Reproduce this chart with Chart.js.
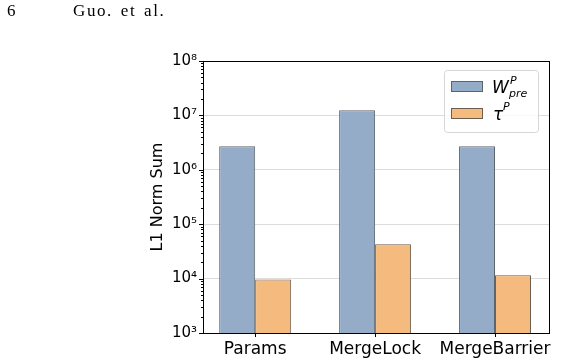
<!DOCTYPE html>
<html>
<head>
<meta charset="utf-8">
<script src="https://cdn.jsdelivr.net/npm/chart.js@4/dist/chart.umd.min.js"></script>
<style>
  html, body { margin: 0; padding: 0; background: #fff; }
  #wrap { position: relative; width: 561px; height: 363px; }
  #hdr { position: absolute; left: 0; top: 0; font: 17px "Liberation Serif", serif; color: #000; }
  #hdr .pg { position: absolute; left: 7px; top: 1px; }
  #hdr .au { position: absolute; left: 73px; top: 1px; white-space: nowrap; letter-spacing: 1.6px; word-spacing: 2px; }
</style>
</head>
<body>
<div id="wrap">
  <canvas id="c" width="561" height="363"></canvas>
  <div id="hdr"><span class="pg">6</span><span class="au">Guo. et al.</span></div>
</div>
<script>
// values
const categories = ['Params', 'MergeLock', 'MergeBarrier'];
const wPre = [2.7e6, 1.25e7, 2.7e6];
const tau = [9.6e3, 4.3e4, 1.15e4];
const yTickExps = [3, 4, 5, 6, 7, 8];

const sup = { '0': '⁰', '1': '¹', '2': '²', '3': '³', '4': '⁴', '5': '⁵', '6': '⁶', '7': '⁷', '8': '⁸', '9': '⁹' };
const toPoints = arr => arr.map((v, i) => ({ x: i, y: v }));

// ticks, frame and legend drawn the matplotlib way
const decor = {
  id: 'decor',
  afterDraw(chart) {
    const ctx = chart.ctx, a = chart.chartArea, y = chart.scales.y;
    ctx.save();
    ctx.strokeStyle = '#000';
    ctx.lineWidth = 1;
    // y ticks, major and minor
    for (let e = 3; e < 8; e++) {
      for (let m = 1; m < 10; m++) {
        const py = Math.round(y.getPixelForValue(m * Math.pow(10, e))) + 0.5;
        const len = m === 1 ? 4 : 2;
        ctx.beginPath(); ctx.moveTo(a.left - len, py); ctx.lineTo(a.left, py); ctx.stroke();
      }
    }
    const top = Math.round(y.getPixelForValue(1e8)) + 0.5;
    ctx.beginPath(); ctx.moveTo(a.left - 4, top); ctx.lineTo(a.left, top); ctx.stroke();
    // x ticks
    const x = chart.scales.x;
    categories.forEach((c, i) => {
      const px = Math.round(x.getPixelForValue(i)) + 0.5;
      ctx.beginPath(); ctx.moveTo(px, a.bottom); ctx.lineTo(px, a.bottom + 4); ctx.stroke();
    });
    // frame
    ctx.strokeRect(Math.round(a.left) + 0.5, Math.round(a.top) + 0.5, Math.round(a.right - a.left), Math.round(a.bottom - a.top));

    // legend
    const lx = 444, ly = 70, lw = 94, lh = 62;
    ctx.fillStyle = 'rgba(255,255,255,0.8)';
    ctx.strokeStyle = '#d6d6d6';
    ctx.beginPath();
    ctx.roundRect(lx + 0.5, ly + 0.5, lw, lh, 3);
    ctx.fill(); ctx.stroke();
    const ds = chart.data.datasets;
    const rows = [ly + 11, ly + 38];
    rows.forEach((ry, i) => {
      ctx.fillStyle = ds[i].backgroundColor;
      ctx.fillRect(451, ry, 32, 11);
      ctx.strokeStyle = ds[i].borderColor;
      ctx.strokeRect(451.5, ry + 0.5, 31, 10);
    });
    ctx.fillStyle = '#000';
    ctx.textBaseline = 'alphabetic';
    ctx.font = 'italic 17px "DejaVu Sans"';
    ctx.fillText('W', 492, 93);
    ctx.font = 'italic 11px "DejaVu Sans"';
    ctx.fillText('P', 510, 84);
    ctx.fillText('pre', 509, 97);
    ctx.font = 'italic 17px "DejaVu Sans"';
    ctx.fillText('τ', 493, 120);
    ctx.font = 'italic 11px "DejaVu Sans"';
    ctx.fillText('P', 503, 110);
    ctx.restore();
  }
};

new Chart(document.getElementById('c'), {
  type: 'bar',
  data: {
    datasets: [
      { label: 'W_pre^P', data: toPoints(wPre), backgroundColor: '#94acc8', borderColor: '#5c636b', borderWidth: 1 },
      { label: 'τ^P', data: toPoints(tau), backgroundColor: '#f5bb7e', borderColor: '#6b5d50', borderWidth: 1 }
    ]
  },
  options: {
    responsive: false,
    animation: false,
    layout: { padding: { left: 140, right: 12, top: 61, bottom: 0 } },
    plugins: { legend: { display: false }, tooltip: { enabled: false } },
    datasets: { bar: { categoryPercentage: 0.6, barPercentage: 1.0 } },
    scales: {
      x: {
        type: 'linear',
        min: -0.435,
        max: 2.45,
        offset: false,
        afterFit(s) { s.height = 30; },
        afterBuildTicks(s) { s.ticks = categories.map((c, i) => ({ value: i })); },
        grid: { display: false, drawTicks: false },
        border: { display: false },
        ticks: { color: '#000', font: { family: 'DejaVu Sans', size: 17 }, padding: 6, maxRotation: 0,
          callback(v) { return categories[v]; } }
      },
      y: {
        type: 'logarithmic',
        min: 1e3,
        max: 1e8,
        afterFit(s) { s.width = 63; },
        afterBuildTicks(s) { s.ticks = yTickExps.map(e => ({ value: Math.pow(10, e) })); },
        grid: { color: '#dcdcdc', drawTicks: false, lineWidth: 1 },
        border: { display: false },
        ticks: {
          color: '#000',
          padding: 6,
          font: { family: 'DejaVu Sans', size: 15 },
          callback(v) { return '10' + String(Math.round(Math.log10(v))).split('').map(d => sup[d]).join(''); }
        },
        title: { display: true, text: 'L1 Norm Sum', color: '#000', font: { family: 'DejaVu Sans', size: 16 }, padding: { top: 8, bottom: 4 } }
      }
    }
  },
  plugins: [decor]
});
</script>
</body>
</html>
